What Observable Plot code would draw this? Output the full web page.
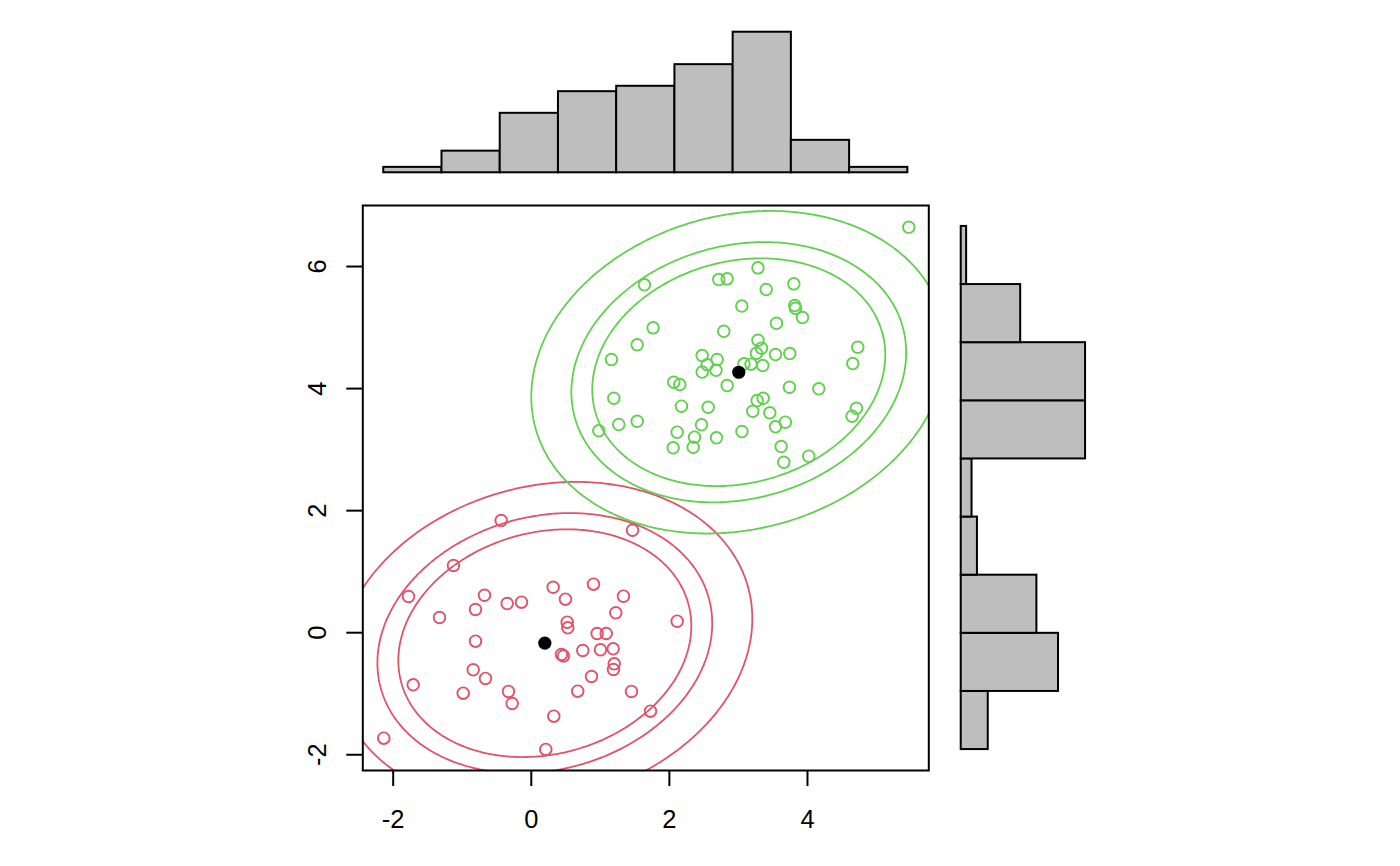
<!DOCTYPE html>
<html>
<head>
<meta charset="utf-8">
<script src="https://cdn.jsdelivr.net/npm/d3@7"></script>
<script src="https://cdn.jsdelivr.net/npm/@observablehq/plot@0.6"></script>
<style>
  html, body { margin: 0; padding: 0; background: white; }
  #chart { position: relative; width: 1400px; height: 866px; background: white; overflow: hidden; }
  #chart svg { position: absolute; left: 0; top: 0; max-width: none !important; }
</style>
</head>
<body>
<div id="chart"></div>
<script>
// ---- data ----
const redX = [-0.436, 1.466, -1.127, -1.778, 0.317, 0.901, -0.678, 0.495, 1.335, -0.808,
  -0.349, -0.142, -1.329, 1.224, 2.113, 0.520, 0.529, -0.808, 0.954, 1.085,
  1.186, 1.002, 0.746, 0.437, 0.466, 1.201, 1.190, -0.841, -0.663, -1.710,
  0.872, -0.986, -0.330, 0.673, 1.451, -0.277, 0.326, 1.726, -2.136, 0.210];
const redY = [1.838, 1.679, 1.101, 0.593, 0.745, 0.795, 0.614, 0.549, 0.598, 0.380,
  0.478, 0.500, 0.249, 0.326, 0.188, 0.172, 0.080, -0.139, -0.013, -0.013,
  -0.264, -0.280, -0.292, -0.357, -0.382, -0.510, -0.603, -0.608, -0.750, -0.854,
  -0.718, -0.991, -0.963, -0.958, -0.963, -1.160, -1.368, -1.286, -1.728, -1.913];

const greenX = [1.639, 2.715, 2.837, 3.283, 3.049, 1.765, 2.788, 1.534, 1.161, 2.475,
  2.692, 2.547, 2.475, 2.675, 3.283, 3.261, 3.182, 3.080, 3.802, 3.402,
  3.816, 3.826, 3.928, 3.551, 3.334, 3.537, 3.744, 4.728, 4.656, 3.353,
  2.064, 2.151, 2.837, 1.195, 2.175, 2.562, 3.271, 3.208, 1.267, 1.534,
  0.978, 2.465, 2.113, 2.364, 2.682, 3.051, 2.055, 2.345, 3.739, 4.164,
  3.358, 3.454, 4.709, 4.647, 3.679, 3.537, 3.619, 4.019, 3.657, 5.467];
const greenY = [5.700, 5.786, 5.798, 5.978, 5.352, 4.995, 4.939, 4.717, 4.476, 4.541,
  4.476, 4.389, 4.271, 4.300, 4.792, 4.579, 4.400, 4.405, 5.716, 5.623,
  5.360, 5.316, 5.164, 5.070, 4.661, 4.558, 4.574, 4.677, 4.410, 4.377,
  4.104, 4.066, 4.050, 3.842, 3.711, 3.694, 3.804, 3.629, 3.411, 3.465,
  3.308, 3.406, 3.285, 3.203, 3.193, 3.296, 3.029, 3.039, 4.022, 3.996,
  3.842, 3.603, 3.678, 3.547, 3.449, 3.373, 3.050, 2.892, 2.793, 6.643];

// cluster centres (black dots)
const centerX = [0.196, 3.005];
const centerY = [-0.172, 4.268];
const clusterColors = ["#DF536B", "#61D04F"];

// shared ellipse shape (covariance sxx, sxy, syy) and contour scales
const ellipseCov = [4.501, 0.60, 3.482];
const ellipseScales = [1, 1.1427, 1.4164];

// marginal histogram counts (bars of unit width)
const xCounts = [1, 4, 11, 15, 16, 20, 26, 6, 1];        // left to right
const yCounts = [5, 18, 14, 3, 2, 23, 23, 11, 1];        // bottom to top
const countTop = 26;

// axis ticks and labels
const xTicks = [-2, 0, 2, 4];
const xTickLabels = ["-2", "0", "2", "4"];
const yTicks = [-2, 0, 2, 4, 6];
const yTickLabels = ["-2", "0", "2", "4", "6"];

// ---- derived tables ----
const redPts = redX.map((x, i) => ({x, y: redY[i]}));
const greenPts = greenX.map((x, i) => ({x, y: greenY[i]}));
const centers = centerX.map((x, i) => ({x, y: centerY[i]}));

function ellipsePoints(cx, cy) {
  const [sxx, sxy, syy] = ellipseCov;
  const l11 = Math.sqrt(sxx), l21 = sxy / l11, l22 = Math.sqrt(syy - l21 * l21);
  const out = [];
  ellipseScales.forEach((s, k) => {
    for (let j = 0; j <= 360; j++) {
      const t = (j / 360) * 2 * Math.PI;
      out.push({level: k, x: cx + s * l11 * Math.cos(t), y: cy + s * (l21 * Math.cos(t) + l22 * Math.sin(t))});
    }
  });
  return out;
}
const redEll = ellipsePoints(centerX[0], centerY[0]);
const greenEll = ellipsePoints(centerX[1], centerY[1]);

const W = 1400, H = 866;
const box = {left: 362.3, right: 928.3, top: 205, bottom: 770};
const font = "'Liberation Sans', Arial, Helvetica, sans-serif";
const labelSize = 25.5;
const baseStyle = {background: "transparent", fontFamily: font, fontSize: labelSize + "px", color: "black", overflow: "visible"};

const main = Plot.plot({
  width: W, height: H,
  marginLeft: box.left, marginRight: W - box.right, marginTop: box.top, marginBottom: H - box.bottom,
  x: {domain: [-2.44, 5.757], label: null},
  y: {domain: [-2.258, 7.0], label: null},
  style: baseStyle,
  marks: [
    Plot.line(redEll, {x: "x", y: "y", z: "level", stroke: clusterColors[0], strokeWidth: 1.8, clip: true}),
    Plot.line(greenEll, {x: "x", y: "y", z: "level", stroke: clusterColors[1], strokeWidth: 1.8, clip: true}),
    Plot.dot(redPts, {x: "x", y: "y", r: 5.8, stroke: clusterColors[0], strokeWidth: 1.9, fill: "none"}),
    Plot.dot(greenPts, {x: "x", y: "y", r: 5.8, stroke: clusterColors[1], strokeWidth: 1.9, fill: "none"}),
    Plot.dot(centers, {x: "x", y: "y", r: 6.6, fill: "black", stroke: "none"}),
    Plot.frame({stroke: "black", strokeWidth: 2}),
    Plot.axisX(xTicks, {anchor: "bottom", tickSize: 16, tickPadding: 23, fontSize: labelSize,
      tickFormat: (d) => xTickLabels[xTicks.indexOf(d)],
      strokeWidth: 2, stroke: "black", fill: "black", label: null}),
    Plot.axisY(yTicks, {anchor: "left", tickSize: 16, tickPadding: 29, tickRotate: -90, textAnchor: "middle", lineAnchor: "middle", fontSize: labelSize,
      tickFormat: (d) => yTickLabels[yTicks.indexOf(d)],
      strokeWidth: 2, stroke: "black", fill: "black", label: null})
  ]
});

const ext = 0.04 * countTop;
const topHist = Plot.plot({
  width: W, height: H,
  marginLeft: box.left, marginRight: W - box.right, marginTop: 26.1, marginBottom: H - 177.9,
  x: {domain: [-0.36, 9.36], axis: null},
  y: {domain: [-ext, countTop + ext], axis: null},
  style: baseStyle,
  marks: [
    Plot.rectY(xCounts.map((c, i) => ({i, c})), {x1: "i", x2: d => d.i + 1, y1: 0, y2: "c", fill: "#BEBEBE", stroke: "black", strokeWidth: 2})
  ]
});

const rightHist = Plot.plot({
  width: W, height: H,
  marginLeft: 955.1, marginRight: W - 1106.9, marginTop: box.top, marginBottom: H - box.bottom,
  x: {domain: [-ext, countTop + ext], axis: null},
  y: {domain: [-0.36, 9.36], axis: null},
  style: baseStyle,
  marks: [
    Plot.rectX(yCounts.map((c, i) => ({i, c})), {y1: "i", y2: d => d.i + 1, x1: 0, x2: "c", fill: "#BEBEBE", stroke: "black", strokeWidth: 2})
  ]
});

const chart = document.getElementById("chart");
chart.appendChild(topHist);
chart.appendChild(rightHist);
chart.appendChild(main);
</script>
</body>
</html>
